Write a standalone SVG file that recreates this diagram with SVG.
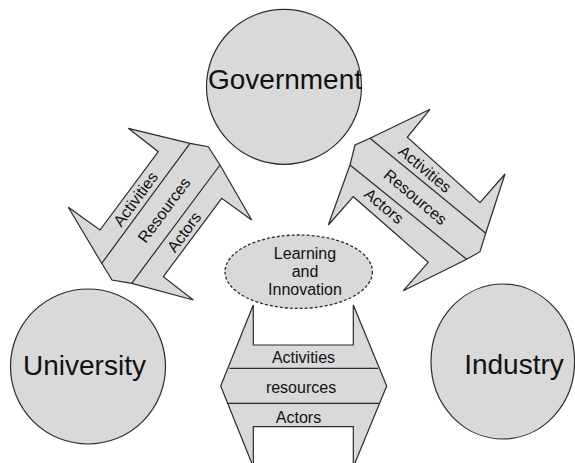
<svg xmlns="http://www.w3.org/2000/svg" width="575" height="463" viewBox="0 0 575 463">
<style>
.shape{fill:#d9d9d9;stroke:#2b2b2b;stroke-width:1.2;stroke-linejoin:miter}
.div{fill:none;stroke:#2b2b2b;stroke-width:1.2}
.big{font-family:"Liberation Sans",Arial,sans-serif;font-size:28px;fill:#111;text-anchor:middle}
.small{font-family:"Liberation Sans",Arial,sans-serif;font-size:16px;fill:#111;text-anchor:middle}
.dashed{fill:#d9d9d9;stroke:#2b2b2b;stroke-width:1.3;stroke-dasharray:3 2}
</style>
<rect x="0" y="0" width="575" height="463" fill="#ffffff"/>
<g id="connectors">
  <g id="arrow-univ-gov">
    <polygon class="shape" points="128.3,128.3 190,143.3 208.3,146.7 220,165 251.7,220 221.7,198.3 163.3,276.7 193.3,300 131.7,283.3 112,280 101.7,263.3 68.3,207.3 100,230 158.3,151.7"/>
    <line class="div" x1="190" y1="143.3" x2="101.7" y2="263.3"/>
    <line class="div" x1="220" y1="165" x2="131.7" y2="283.3"/>
    <text class="small" transform="translate(135.5,199) rotate(-53.6)" dy="0.35em">Activities</text>
    <text class="small" transform="translate(164,210) rotate(-53.6)" dy="0.35em">Resources</text>
    <text class="small" transform="translate(184,232) rotate(-53.6)" dy="0.35em">Actors</text>
  </g>
  <g id="arrow-gov-ind">
    <polygon class="shape" points="430,109.3 370,138.3 355,145 350,165 328.3,225 353.3,196.7 428.3,262.3 403.3,290.7 466.7,259.3 480,251.7 485.7,233.3 505,174 480,202.7 407.3,137.3"/>
    <line class="div" x1="370" y1="138.3" x2="485.7" y2="233.3"/>
    <line class="div" x1="350" y1="165" x2="466.7" y2="259.3"/>
    <text class="small" transform="translate(425,169) rotate(40)" dy="0.35em">Activities</text>
    <text class="small" transform="translate(415.5,197) rotate(40)" dy="0.35em">Resources</text>
    <text class="small" transform="translate(384,206) rotate(40)" dy="0.35em">Actors</text>
  </g>
  <g id="arrow-univ-ind">
    <polygon class="shape" points="253.3,305 253.3,345 353.3,345 353.3,305 386.7,386 353.3,467 353.3,426.7 253.3,426.7 253.3,467 220.7,386"/>
    <line class="div" x1="229.5" y1="368.3" x2="378" y2="368.3"/>
    <line class="div" x1="228" y1="403.3" x2="379.5" y2="403.3"/>
    <text class="small" x="303.5" y="362.5">Activities</text>
    <text class="small" x="301" y="392.5">resources</text>
    <text class="small" x="298.5" y="422.5">Actors</text>
  </g>
</g>
<g id="government">
  <circle class="shape" cx="284" cy="86.8" r="77.5"/>
  <text class="big" x="285" y="89.3">Government</text>
</g>
<g id="university">
  <circle class="shape" cx="88" cy="366.5" r="77.5"/>
  <text class="big" x="84.5" y="375">University</text>
</g>
<g id="industry">
  <ellipse class="shape" cx="502.8" cy="361.5" rx="71.8" ry="77.5"/>
  <text class="big" x="514" y="374">Industry</text>
</g>
<g id="learning">
  <ellipse class="dashed" cx="298.7" cy="271.7" rx="73.7" ry="36.7"/>
  <text class="small" x="305" y="258.5">Learning</text>
  <text class="small" x="305" y="276.7">and</text>
  <text class="small" x="305" y="295">Innovation</text>
</g>
</svg>
